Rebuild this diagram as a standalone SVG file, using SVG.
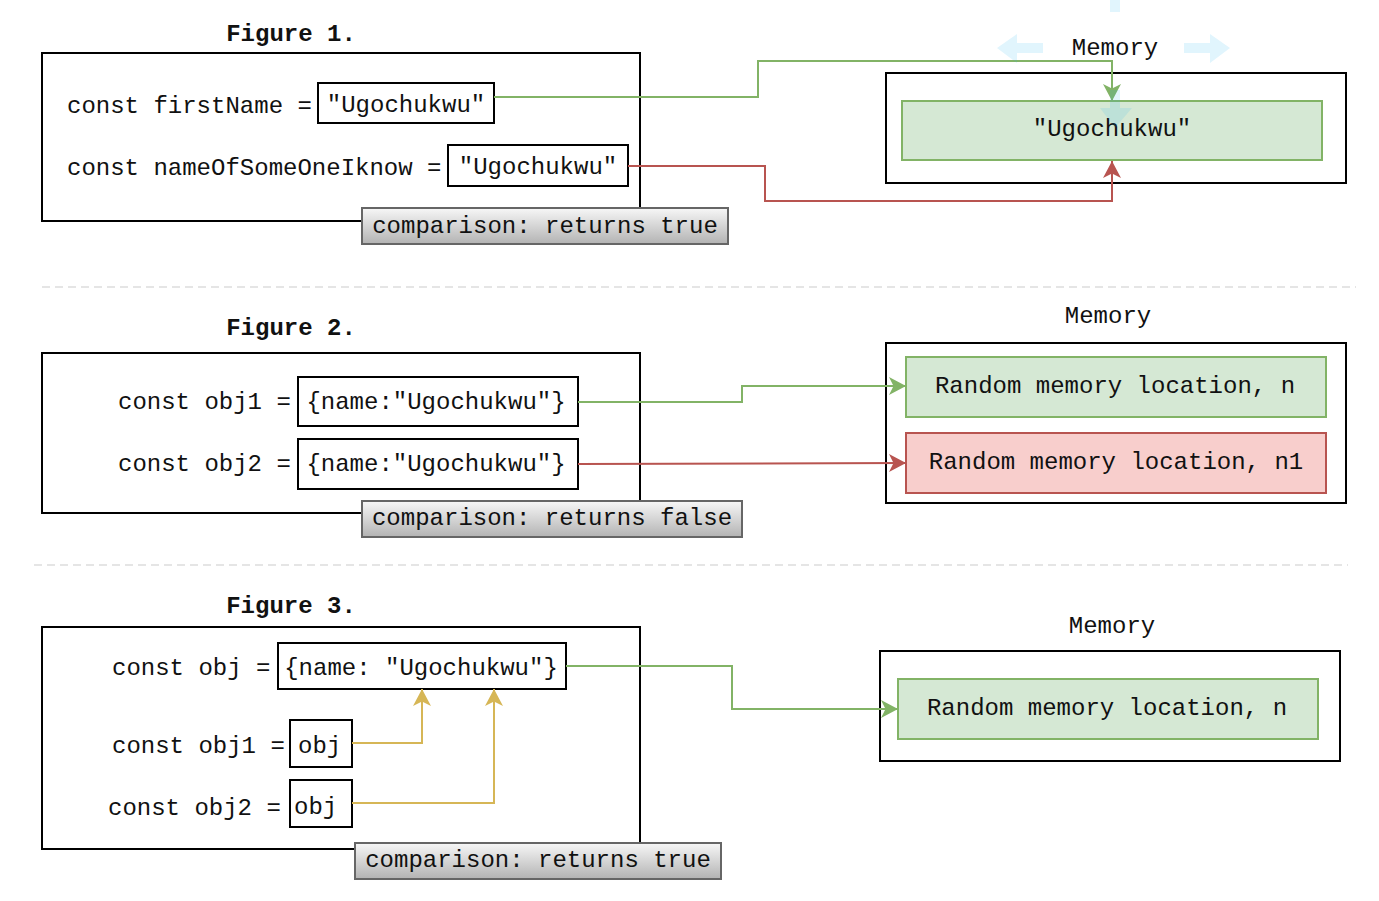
<svg xmlns="http://www.w3.org/2000/svg" width="1379" height="901" viewBox="0 0 1379 901">
  <style>
    text { font-family: "Liberation Mono", "Courier New", monospace; font-size: 24px; fill: #111; dominant-baseline: central; }
    .title { font-weight: bold; text-anchor: middle; }
    .mid { text-anchor: middle; }
    .frame { fill: #fff; stroke: #000; stroke-width: 2; }
    .val { fill: #fff; stroke: #000; stroke-width: 2; }
    .green { fill: #d5e8d4; stroke: #82b366; stroke-width: 2; }
    .red { fill: #f8cecc; stroke: #b85450; stroke-width: 2; }
    .cmp { fill: url(#cmpGrad); stroke: #666; stroke-width: 2; }
    .sep { stroke: #ddd; stroke-width: 1.5; stroke-dasharray: 8 5; fill: none; }
    .c-green { stroke: #82b366; stroke-width: 2; fill: none; marker-end: url(#arrGreen); }
    .c-red { stroke: #b85450; stroke-width: 2; fill: none; marker-end: url(#arrRed); }
    .c-yellow { stroke: #d6b656; stroke-width: 2; fill: none; marker-end: url(#arrYellow); }
    .hint { fill: #29b6f2; fill-opacity: 0.14; }
  </style>
  <defs>
    <linearGradient id="cmpGrad" x1="0" y1="0" x2="0" y2="1">
      <stop offset="0" stop-color="#f7f7f7"/>
      <stop offset="1" stop-color="#b3b3b3"/>
    </linearGradient>
    <marker id="arrGreen" markerUnits="userSpaceOnUse" markerWidth="19" markerHeight="19" refX="17" refY="9" orient="auto">
      <path d="M0,0 L17,9 L0,18 L4.5,9 Z" fill="#82b366"/>
    </marker>
    <marker id="arrRed" markerUnits="userSpaceOnUse" markerWidth="19" markerHeight="19" refX="17" refY="9" orient="auto">
      <path d="M0,0 L17,9 L0,18 L4.5,9 Z" fill="#b85450"/>
    </marker>
    <marker id="arrYellow" markerUnits="userSpaceOnUse" markerWidth="19" markerHeight="19" refX="17" refY="9" orient="auto">
      <path d="M0,0 L17,9 L0,18 L4.5,9 Z" fill="#d6b656"/>
    </marker>
  </defs>

  <rect x="0" y="0" width="1379" height="901" fill="#fff"/>

  <!-- separators -->
  <g id="separators">
    <line class="sep" x1="42" y1="287" x2="1356" y2="287"/>
    <line class="sep" x1="34" y1="565" x2="1348" y2="565"/>
  </g>

  <!-- Figure 1 -->
  <g id="fig1">
    <text class="title" x="291" y="34">Figure 1.</text>
    <rect class="frame" x="42" y="53" width="598" height="168"/>
    <text x="67" y="106">const firstName =</text>
    <text x="67" y="168">const nameOfSomeOneIknow =</text>
  </g>
  <g id="fig1-firstName">
    <rect class="val" x="318" y="83" width="176" height="40"/>
    <text class="mid" x="406" y="105">"Ugochukwu"</text>
  </g>
  <g id="fig1-nameOfSomeOne">
    <rect class="val" x="448" y="145" width="180" height="41"/>
    <text class="mid" x="538" y="167">"Ugochukwu"</text>
  </g>
  <g id="fig1-comparison">
    <rect class="cmp" x="362" y="208" width="366" height="36"/>
    <text class="mid" x="545" y="226">comparison: returns true</text>
  </g>
  <g id="mem1">
    <text class="mid" x="1115" y="48">Memory</text>
    <rect class="frame" x="886" y="73" width="460" height="110"/>
  </g>
  <g id="mem1-value">
    <rect class="green" x="902" y="101" width="420" height="59"/>
    <text class="mid" x="1112" y="129">"Ugochukwu"</text>
  </g>

  <!-- Figure 2 -->
  <g id="fig2">
    <text class="title" x="291" y="328">Figure 2.</text>
    <rect class="frame" x="42" y="353" width="598" height="160"/>
    <text x="118" y="402">const obj1 =</text>
    <text x="118" y="464">const obj2 =</text>
  </g>
  <g id="fig2-obj1">
    <rect class="val" x="298" y="377" width="280" height="49"/>
    <text class="mid" x="436" y="402">{name:"Ugochukwu"}</text>
  </g>
  <g id="fig2-obj2">
    <rect class="val" x="298" y="439" width="280" height="50"/>
    <text class="mid" x="436" y="464">{name:"Ugochukwu"}</text>
  </g>
  <g id="fig2-comparison">
    <rect class="cmp" x="362" y="501" width="380" height="36"/>
    <text class="mid" x="552" y="518">comparison: returns false</text>
  </g>
  <g id="mem2">
    <text class="mid" x="1108" y="316">Memory</text>
    <rect class="frame" x="886" y="343" width="460" height="160"/>
  </g>
  <g id="mem2-n">
    <rect class="green" x="906" y="357" width="420" height="60"/>
    <text class="mid" x="1115" y="386">Random memory location, n</text>
  </g>
  <g id="mem2-n1">
    <rect class="red" x="906" y="433" width="420" height="60"/>
    <text class="mid" x="1116" y="462">Random memory location, n1</text>
  </g>

  <!-- Figure 3 -->
  <g id="fig3">
    <text class="title" x="291" y="606">Figure 3.</text>
    <rect class="frame" x="42" y="627" width="598" height="222"/>
    <text x="112" y="668">const obj =</text>
    <text x="112" y="746">const obj1 =</text>
    <text x="108" y="808">const obj2 =</text>
  </g>
  <g id="fig3-obj">
    <rect class="val" x="278" y="643" width="288" height="46"/>
    <text class="mid" x="421" y="668">{name: "Ugochukwu"}</text>
  </g>
  <g id="fig3-obj1">
    <rect class="val" x="290" y="720" width="62" height="47"/>
    <text x="298" y="746">obj</text>
  </g>
  <g id="fig3-obj2">
    <rect class="val" x="290" y="780" width="62" height="47"/>
    <text x="294" y="807">obj</text>
  </g>
  <g id="fig3-comparison">
    <rect class="cmp" x="355" y="843" width="366" height="36"/>
    <text class="mid" x="538" y="860">comparison: returns true</text>
  </g>
  <g id="mem3">
    <text class="mid" x="1112" y="626">Memory</text>
    <rect class="frame" x="880" y="651" width="460" height="110"/>
  </g>
  <g id="mem3-n">
    <rect class="green" x="898" y="679" width="420" height="60"/>
    <text class="mid" x="1107" y="708">Random memory location, n</text>
  </g>

  <!-- connectors -->
  <g id="connectors">
    <path class="c-green" d="M494,97 L758,97 L758,61 L1112,61 L1112,101"/>
    <path class="c-red" d="M628,166 L765,166 L765,201 L1112,201 L1112,161"/>
    <path class="c-green" d="M578,402 L742,402 L742,386 L906,386"/>
    <path class="c-red" d="M578,464 L906,463"/>
    <path class="c-green" d="M566,666 L732,666 L732,709 L898,709"/>
    <path class="c-yellow" d="M352,743 L422,743 L422,689"/>
    <path class="c-yellow" d="M352,803 L494,803 L494,689"/>
  </g>

  <!-- faint hover hints -->
  <g id="hover-hints">
    <rect class="hint" x="1110" y="0" width="10" height="12"/>
    <path class="hint" d="M1043,43 L1017,43 L1017,34 L997,48 L1017,63 L1017,53 L1043,53 Z"/>
    <path class="hint" d="M1184,43 L1210,43 L1210,34 L1230,48 L1210,63 L1210,53 L1184,53 Z"/>
    <path class="hint" d="M1110,90 L1120,90 L1120,108 L1132,108 L1115,128 L1100,108 L1110,108 Z"/>
  </g>
</svg>
